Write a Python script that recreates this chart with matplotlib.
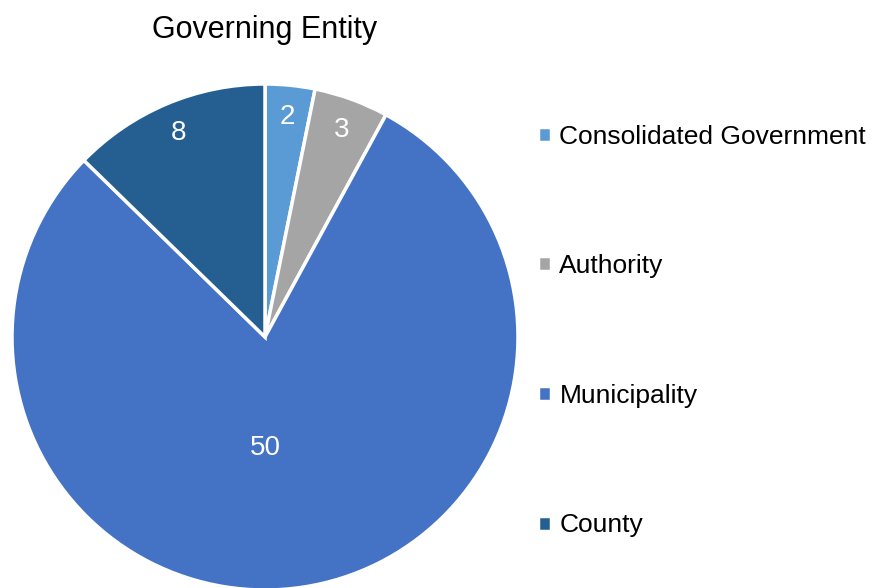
import matplotlib
matplotlib.use("Agg")
import matplotlib.pyplot as plt
import numpy as np

plt.rcParams['font.family'] = ['Liberation Sans Narrow', 'Liberation Sans', 'DejaVu Sans']

categories = ['Consolidated Government', 'Authority', 'Municipality', 'County']
values = [2, 3, 50, 8]
colors = ['#5B9BD5', '#A5A5A5', '#4472C4', '#255E91']
label_dist = [0.88, 0.88, 0.43, 0.885]

fig = plt.figure(figsize=(8.72, 5.88), dpi=100)
ax = fig.add_axes([12 / 872, -2 / 588, 506 / 872, 506 / 588])

wedges, _ = ax.pie(values, colors=colors, startangle=90, counterclock=False,
                   radius=1, wedgeprops=dict(edgecolor='white', linewidth=2.5))

for w, v, d in zip(wedges, values, label_dist):
    mid = np.deg2rad((w.theta1 + w.theta2) / 2)
    x, y = d * np.cos(mid), d * np.sin(mid)
    if v == 50:
        x, y = 0, -d
    ax.text(x, y - 0.008, str(v), ha='center', va='center', color='white', fontsize=20)

ax.set_xlim(-1, 1)
ax.set_ylim(-1, 1)
ax.set_aspect('equal')
ax.axis('off')

fig.text(265 / 872, 1 - 30 / 588, 'Governing Entity', ha='center', va='center', fontsize=22)

fig.legend(wedges, categories, loc='upper left', bbox_to_anchor=(514 / 872, 1 - 101 / 588),
           frameon=False, fontsize=19, handlelength=0.5, handleheight=0.5,
           handletextpad=0.32, labelspacing=4.0)

fig.savefig('out.png', dpi=100)
